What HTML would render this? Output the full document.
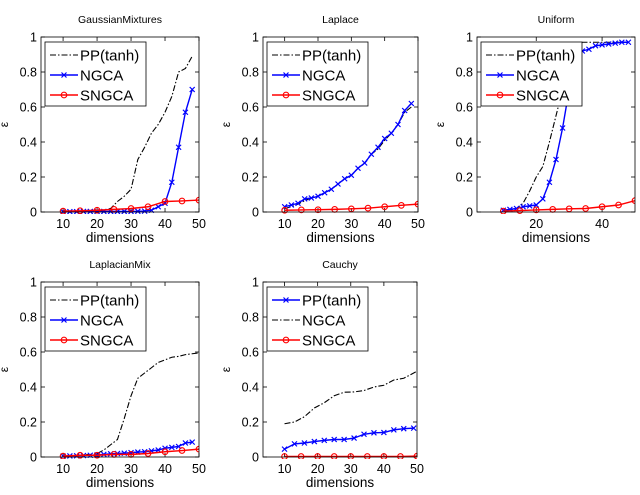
<!DOCTYPE html>
<html><head><meta charset="utf-8"><style>
body{margin:0;background:#fff;}
svg text{font-family:"Liberation Sans",Arial,sans-serif;}
</style></head><body>
<svg id="fig" width="640" height="490" viewBox="0 0 640 490" xmlns="http://www.w3.org/2000/svg"></svg>
<script>
const gmX=[10,12,14,16,18,20,22,24,26,28,30,32,34,36,38,40,42,44,46,48];
const gmPP=[0,0,0.002,0.003,0.004,0.005,0.01,0.02,0.06,0.09,0.13,0.3,0.37,0.45,0.5,0.57,0.66,0.8,0.82,0.89];
const gmNG=[0.002,0.002,0.002,0.003,0.003,0.003,0.003,0.003,0.003,0.003,0.003,0.004,0.005,0.01,0.03,0.05,0.17,0.37,0.57,0.7];
const sX=[10,15,20,25,30,35,40,45,50];
const gmSN=[0.005,0.007,0.01,0.015,0.02,0.03,0.06,0.063,0.068];
const lpX=[10,12,14,16,18,20,22,24,26,28,30,32,34,36,38,40,42,44,46,48];
const lpPP=[0.02,0.03,0.045,0.065,0.08,0.09,0.11,0.13,0.16,0.19,0.21,0.25,0.28,0.33,0.36,0.41,0.45,0.5,0.57,0.6];
const lpNG=[0.03,0.04,0.05,0.075,0.08,0.09,0.11,0.13,0.16,0.19,0.21,0.25,0.28,0.33,0.37,0.42,0.45,0.5,0.58,0.62];
const lpSN=[0.01,0.012,0.013,0.015,0.018,0.022,0.03,0.038,0.045];
const unX=[10,12,14,16,18,20,22,24,26,28,30,32,34,36,38,40,42,44,46,48];
const unPP=[0.005,0.01,0.02,0.05,0.12,0.2,0.26,0.4,0.55,0.7,0.85,0.95,0.97,0.97,0.97,0.97,0.97,0.97,0.97,0.97];
const unNG=[0.01,0.015,0.02,0.03,0.035,0.04,0.075,0.17,0.3,0.48,0.7,0.88,0.92,0.93,0.95,0.955,0.96,0.965,0.97,0.97];
const unSN=[0.005,0.008,0.012,0.015,0.018,0.02,0.03,0.04,0.065];
const lmX=[10,12,14,16,18,20,22,24,26,28,30,32,34,36,38,40,42,44,46,48,50];
const lmPP=[0.005,0.007,0.01,0.012,0.015,0.02,0.04,0.07,0.1,0.22,0.35,0.45,0.48,0.51,0.54,0.555,0.57,0.575,0.585,0.59,0.595];
const lmNG=[0.005,0.006,0.007,0.008,0.01,0.012,0.015,0.018,0.02,0.022,0.025,0.028,0.03,0.035,0.04,0.05,0.055,0.06,0.08,0.085,null];
const lmSN=[0.005,0.01,0.01,0.015,0.015,0.02,0.03,0.037,0.045];
const caX=[10,13,16,19,22,25,28,31,34,37,40,43,46,49];
const caBlue=[0.045,0.075,0.08,0.088,0.095,0.1,0.1,0.108,0.13,0.138,0.14,0.155,0.162,0.165];
const caBlackX=[10,13,16,19,22,25,28,31,34,37,40,43,46,50];
const caBlack=[0.19,0.2,0.23,0.28,0.31,0.35,0.37,0.372,0.38,0.4,0.41,0.44,0.45,0.49];
const caSN=[0.003,0.003,0.003,0.003,0.003,0.003,0.003,0.003,0.005];
const yTicks=[0,0.2,0.4,0.6,0.8,1];
const yTickLabels=["0","0.2","0.4","0.6","0.8","1"];
const xTicksA=[10,20,30,40,50];
const xTicksB=[20,40];

const NS="http://www.w3.org/2000/svg";
const svg=document.getElementById('fig');
function mk(tag,attrs,parent){const e=document.createElementNS(NS,tag);for(const k in attrs)e.setAttribute(k,attrs[k]);(parent||svg).appendChild(e);return e;}

const panels=[
 {name:'gaussian-mixtures',title:'GaussianMixtures',x0:41,x1:199,y0:37,y1:212,xmin:3.5,xmax:50,xt:xTicksA,
  series:[{x:gmX,y:gmPP,st:'pp'},{x:gmX,y:gmNG,st:'ng'},{x:sX,y:gmSN,st:'sn'}],leg:['pp','ng','sn']},
 {name:'laplace',title:'Laplace',x0:263,x1:418,y0:37,y1:212,xmin:3.5,xmax:50,xt:xTicksA,
  series:[{x:lpX,y:lpPP,st:'pp'},{x:lpX,y:lpNG,st:'ng'},{x:sX,y:lpSN,st:'sn'}],leg:['pp','ng','sn']},
 {name:'uniform',title:'Uniform',x0:477,x1:635,y0:37,y1:212,xmin:2,xmax:50,xt:xTicksB,
  series:[{x:unX,y:unPP,st:'pp'},{x:unX,y:unNG,st:'ng'},{x:sX,y:unSN,st:'sn'}],leg:['pp','ng','sn']},
 {name:'laplacian-mix',title:'LaplacianMix',x0:41,x1:199,y0:282,y1:457,xmin:3.5,xmax:50,xt:xTicksA,
  series:[{x:lmX,y:lmPP,st:'pp'},{x:lmX,y:lmNG,st:'ng'},{x:sX,y:lmSN,st:'sn'}],leg:['pp','ng','sn']},
 {name:'cauchy',title:'Cauchy',x0:263,x1:417,y0:282,y1:457,xmin:3.5,xmax:50,xt:xTicksA,
  series:[{x:caBlackX,y:caBlack,st:'pp'},{x:caX,y:caBlue,st:'ng'},{x:sX,y:caSN,st:'sn'}],leg:['ng','pp','sn']}
];
const styles={
 pp:{stroke:'#000',dash:'6,2,1.5,2',marker:null},
 ng:{stroke:'#0000ff',dash:null,marker:'x'},
 sn:{stroke:'#ff0000',dash:null,marker:'o'}
};
const legNames=['PP(tanh)','NGCA','SNGCA'];
function marker(g,type,cx,cy,col){
 if(type==='x'){mk('path',{d:`M${cx-2.5},${cy-2.5}L${cx+2.5},${cy+2.5}M${cx-2.5},${cy+2.5}L${cx+2.5},${cy-2.5}`,stroke:col,'stroke-width':1.2},g);}
 else if(type==='o'){mk('circle',{cx,cy,r:2.8,fill:'none',stroke:col,'stroke-width':1.1},g);}
}
panels.forEach(p=>{
 const g=mk('g',{});
 
 
 const sx=v=>p.x0+(v-p.xmin)/(p.xmax-p.xmin)*(p.x1-p.x0);
 const sy=v=>p.y1-v*(p.y1-p.y0);
 const t=mk('text',{x:(p.x0+p.x1)/2,y:p.y0-14,'font-size':10.5,'text-anchor':'middle'},g);t.textContent=p.title;
 
 const clip='c'+p.name;
 const cp=mk('clipPath',{id:clip},g);mk('rect',{x:p.x0,y:p.y0-2,width:p.x1-p.x0,height:p.y1-p.y0+4},cp);
 yTicks.forEach((v,i)=>{
  const y=sy(v);
  mk('line',{x1:p.x0,x2:p.x0+4,y1:y,y2:y,stroke:'#000','stroke-width':0.8},g);
  mk('line',{x1:p.x1,x2:p.x1-4,y1:y,y2:y,stroke:'#000','stroke-width':0.8},g);
  const tl=mk('text',{x:p.x0-4,y:y+4.5,'font-size':12.5,'text-anchor':'end'},g);tl.textContent=yTickLabels[i];
  
 });
 p.xt.forEach(v=>{
  const x=sx(v);
  mk('line',{x1:x,x2:x,y1:p.y1,y2:p.y1-4,stroke:'#000','stroke-width':0.8},g);
  mk('line',{x1:x,x2:x,y1:p.y0,y2:p.y0+4,stroke:'#000','stroke-width':0.8},g);
  const tl=mk('text',{x:x,y:p.y1+16,'font-size':12.5,'text-anchor':'middle'},g);tl.textContent=v;
  
 });
 const xl=mk('text',{x:(p.x0+p.x1)/2,y:p.y1+30,'font-size':13.5,'text-anchor':'middle'},g);xl.textContent='dimensions';
 
 const yx=p.x0-33,yy=(p.y0+p.y1)/2;
 const yl=mk('text',{x:yx,y:yy,'font-size':12,'text-anchor':'middle',transform:`rotate(-90 ${yx} ${yy})`},g);yl.textContent='ε';
 
 const sg=mk('g',{'clip-path':`url(#${clip})`},g);
 p.series.forEach(s=>{
  const st=styles[s.st];
  const pts=[];s.x.forEach((xv,i)=>{if(s.y[i]!==null)pts.push([sx(xv),sy(s.y[i])]);});
  const pl=mk('polyline',{points:pts.map(q=>q.join(',')).join(' '),fill:'none',stroke:st.stroke,'stroke-width':st.marker?1.4:1.1},sg);
  if(st.dash)pl.setAttribute('stroke-dasharray',st.dash);
  
  if(st.marker)pts.forEach(q=>marker(sg,st.marker,q[0],q[1],st.stroke));
 });
 mk('rect',{x:p.x0,y:p.y0,width:p.x1-p.x0,height:p.y1-p.y0,fill:'none',stroke:'#000','stroke-width':0.8},g);
 // legend
 const lg=mk('g',{},g);
 
 const lx=p.x0+4,ly=p.y0+5;
 mk('rect',{x:lx,y:ly,width:101,height:64,fill:'#fff',stroke:'#000','stroke-width':0.8},lg);
 p.leg.forEach((k,i)=>{
  const st=styles[k];const y=ly+13+i*20;
  const l=mk('line',{x1:lx+5,x2:lx+33,y1:y,y2:y,stroke:st.stroke,'stroke-width':st.marker?1.4:1.1},lg);
  if(st.dash)l.setAttribute('stroke-dasharray',st.dash);
  if(st.marker)marker(lg,st.marker,lx+19,y,st.stroke);
  const tx=mk('text',{x:lx+35,y:y+5.5,'font-size':15},lg);tx.textContent=legNames[i];
  
 });
});
</script>
</body></html>
